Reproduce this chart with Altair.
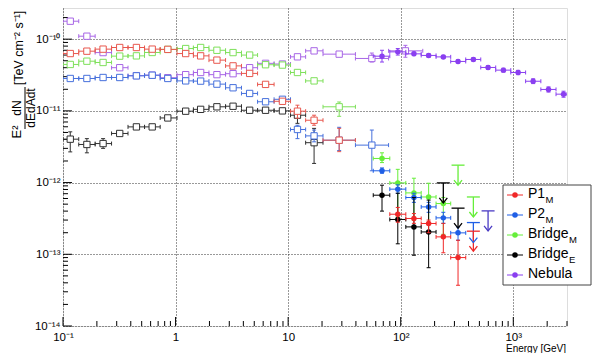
import altair as alt
import pandas as pd
import math

FONT = "Liberation Sans"

# ---------------- Fermi-LAT points (open squares) ----------------
FERMI_E = [0.116, 0.163, 0.227, 0.319, 0.449, 0.62, 0.853, 1.23, 1.67, 2.33, 3.24, 4.55, 6.3, 8.9,
           12.1, 17.0, 28.4, 55.4, 110.0]
FERMI_LO = [0.1, 0.138, 0.193, 0.27, 0.378, 0.53, 0.73, 1.03, 1.44, 1.98, 2.78, 3.85, 5.35, 7.5,
            10.5, 14.3, 20.4, 39.6, 78.0]
FERMI_HI = [0.138, 0.193, 0.27, 0.378, 0.53, 0.73, 1.03, 1.44, 1.98, 2.78, 3.85, 5.35, 7.5, 10.5,
            14.3, 20.4, 39.6, 78.0, 157.0]

P1_F = [6.3e-11, 6.8e-11, 7.26e-11, 7.65e-11, 7.65e-11, 7.26e-11, 7.2e-11, 6.3e-11, 5.85e-11, 5.1e-11,
        4.24e-11, 3.33e-11, 2.34e-11, 1.36e-11, 9.9e-12, 7.4e-12, 3.9e-12]
P1_F_LO = [None] * 14 + [7.9e-12, 6.3e-12, 2.7e-12]
P1_F_HI = [None] * 14 + [1.2e-11, 8.7e-12, 5.7e-12]

P2_F = [2.83e-11, 2.83e-11, 2.92e-11, 2.92e-11, 3.08e-11, 3.14e-11, 2.83e-11, 2.62e-11, 2.6e-11, 2.36e-11,
        2.1e-11, 1.75e-11, 1.34e-11, 1.45e-11, 5.5e-12, 4.48e-12, 3.9e-12, 3.33e-12]
P2_F_LO = [None] * 14 + [4.1e-12, 3.7e-12, 2.8e-12, 1.46e-12]
P2_F_HI = [None] * 14 + [6.3e-12, 5.4e-12, 5.9e-12, 5.4e-12]

BRM_F = [4.44e-11, 4.93e-11, 4.73e-11, 5.8e-11, 5.85e-11, 6.52e-11, 7.2e-11, 7.4e-11, 7.65e-11, 7.0e-11,
         6.5e-11, 6.0e-11, 4.4e-11, 4.35e-11, 3.43e-11, 2.62e-11, 1.14e-11]
BRM_F_LO = [None] * 14 + [3.2e-11, 2.45e-11, 8.4e-12]
BRM_F_HI = [None] * 14 + [3.7e-11, 2.8e-11, 1.33e-11]

BRE_F = [4.03e-12, 3.4e-12, 3.5e-12, 4.84e-12, 5.98e-12, 5.98e-12, 7.97e-12, 9.9e-12, 1.05e-11, 1.14e-11,
         1.16e-11, 1.02e-11, 1.02e-11, 1.0e-11, 8.7e-12, 3.6e-12]
BRE_F_LO = [2.68e-12, 2.6e-12, 3.0e-12] + [None] * 11 + [6.7e-12, 1.85e-12]
BRE_F_HI = [5.1e-12, 4.1e-12, 4.1e-12] + [None] * 11 + [1.02e-11, 5.7e-12]

NEB_F = [1.78e-10, 1.1e-10, 6.5e-11, 4.0e-11, 3.1e-11, 3.15e-11, 2.9e-11, 3.2e-11, 3.43e-11, 3.2e-11,
         3.3e-11, 4.0e-11, 4.6e-11, 4.5e-11, 5.67e-11, 6.87e-11, 6.18e-11, 5.38e-11, 6.87e-11]
NEB_F_LO = [None] * 15 + [6.4e-11, None, 4.8e-11, 5.6e-11]
NEB_F_HI = [None] * 15 + [7.4e-11, None, 6.4e-11, 8.2e-11]

# ---------------- MAGIC points (filled circles) ----------------
MAGIC_E = [68.2, 94.2, 131, 177, 239, 323, 442, 597, 817, 1104, 1501, 2055, 2795]
MAGIC_LO = [57, 80, 111, 152, 206, 278, 378, 514, 698, 950, 1287, 1757, 2397]
MAGIC_HI = [80, 111, 152, 206, 278, 378, 514, 698, 950, 1287, 1757, 2397, 3000]

P1_M_BIN = [1, 2, 3, 4, 5]
P1_M = [3.62e-13, 3.16e-13, 2.69e-13, 1.75e-13, 9.0e-14]
P1_M_LO = [2.8e-13, 2.7e-13, 2.0e-13, 1.05e-13, 3.7e-14]
P1_M_HI = [4.5e-13, 3.7e-13, 3.0e-13, 2.7e-13, 1.57e-13]

P2_M_BIN = [0, 1, 2, 3, 4, 5]
P2_M = [1.46e-12, 8.1e-13, 6.19e-13, 4.58e-13, 3.22e-13, 1.99e-13]
P2_M_LO = [1.35e-12, 7.1e-13, 5.3e-13, 3.85e-13, 2.7e-13, 1.57e-13]
P2_M_HI = [1.6e-12, 9.3e-13, 7.1e-13, 5.3e-13, 3.85e-13, 2.4e-13]

BRM_M_BIN = [0, 1, 2, 3, 4]
BRM_M = [2.17e-12, 9.9e-13, 7.18e-13, 6.3e-13, 5.1e-13]
BRM_M_LO = [1.9e-12, 3.3e-13, 3.0e-13, 2.7e-13, 1.9e-13]
BRM_M_HI = [2.6e-12, 1.53e-12, 1.15e-12, 9.8e-13, 6.2e-13]

BRE_M_BIN = [0, 1, 2, 3]
BRE_M = [6.67e-13, 3.06e-13, 2.41e-13, 2.05e-13]
BRE_M_LO = [4.0e-13, 1.4e-13, 9.7e-14, 6.5e-14]
BRE_M_HI = [9.2e-13, 7.1e-13, 6.2e-13, 5.7e-13]

NEB_M_BIN = list(range(13))
NEB_M = [5.79e-11, 6.65e-11, 6.24e-11, 5.93e-11, 5.66e-11, 4.89e-11, 5.21e-11, 4.03e-11, 3.7e-11,
         3.43e-11, 2.59e-11, 1.99e-11, 1.71e-11]
NEB_M_LO = [4.8e-11, 6.0e-11, 5.9e-11, 5.6e-11, 5.4e-11, 4.65e-11, 4.95e-11, 3.8e-11, 3.48e-11,
            3.2e-11, 2.4e-11, 1.83e-11, 1.55e-11]
NEB_M_HI = [7.0e-11, 7.4e-11, 6.6e-11, 6.25e-11, 5.95e-11, 5.15e-11, 5.5e-11, 4.27e-11, 3.93e-11,
            3.67e-11, 2.8e-11, 2.16e-11, 1.88e-11]

# upper limits
UL_NAME = ["BRM", "BRM", "BRE", "BRE", "P2", "P1", "P2b"]
UL_BIN = [5, 6, 4, 5, 6, 6, 7]
UL_F = [1.75e-12, 6.3e-13, 9.9e-13, 4.4e-13, 2.77e-13, 2.1e-13, 4.03e-13]

# axis ticks
X_TICKS = [0.1, 1, 10, 100, 1000]
X_TICK_LABELS = ["10⁻¹", "1", "10", "10²", "10³"]
Y_TICKS = [1e-14, 1e-13, 1e-12, 1e-11, 1e-10]
Y_TICK_LABELS = ["10⁻¹⁴", "10⁻¹³", "10⁻¹²", "10⁻¹¹", "10⁻¹⁰"]

# legend
LEG_NAMES = ["P1", "P2", "Bridge", "Bridge", "Nebula"]
LEG_SUBS = ["M", "M", "M", "E", ""]
LEG_KEYS = ["P1", "P2", "BRM", "BRE", "NEB"]

COL_M = {"P1": "#f02828", "P2": "#1f5fe6", "BRM": "#66ee3a", "BRE": "#000000", "NEB": "#8a3ff0",
         "P2b": "#4b3cc4"}
COL_F = {"P1": "#e8574e", "P2": "#4670dc", "BRM": "#7ee05a", "BRE": "#303030", "NEB": "#a866e6"}

# ---------------- scales / axes ----------------
W, H = 504, 318
XS = alt.Scale(type="log", domain=[0.1, 3000], nice=False)
YS = alt.Scale(type="log", domain=[1e-14, 2.72e-10], nice=False)


def label_expr(ticks, labels):
    expr = "''"
    for t, l in reversed(list(zip(ticks, labels))):
        e = round(math.log10(t))
        expr = f"(round(log(datum.value)/LN10) == {e}) ? '{l}' : ({expr})"
    return expr


XAX = alt.Axis(values=X_TICKS, labelExpr=label_expr(X_TICKS, X_TICK_LABELS), grid=True,
               gridDash=[1, 2], gridColor="#333333", gridWidth=1, ticks=False, domain=False,
               labelFont=FONT, labelFontSize=11.5, labelColor="black", labelPadding=5,
               labelFlush=False, labelOverlap=False, title=None)
YAX = alt.Axis(values=Y_TICKS, labelExpr=label_expr(Y_TICKS, Y_TICK_LABELS), grid=True,
               gridDash=[1, 2], gridColor="#333333", gridWidth=1, ticks=False, domain=False,
               labelFont=FONT, labelFontSize=11.5, labelColor="black", labelPadding=3,
               labelFlush=False, labelOverlap=False, title=None)


def X(f):
    return alt.X(f, type="quantitative", scale=XS, axis=XAX)


def Y(f):
    return alt.Y(f, type="quantitative", scale=YS, axis=YAX)


def fermi_df(flux, lo, hi):
    rows = []
    for i, f in enumerate(flux):
        rows.append(dict(x=FERMI_E[i], xlo=FERMI_LO[i], xhi=FERMI_HI[i], y=f,
                         ylo=lo[i] if lo[i] is not None else f,
                         yhi=hi[i] if hi[i] is not None else f))
    return pd.DataFrame(rows)


def magic_df(bins, flux, lo, hi):
    rows = []
    for b, f, l, h in zip(bins, flux, lo, hi):
        rows.append(dict(x=MAGIC_E[b], xlo=MAGIC_LO[b], xhi=MAGIC_HI[b], y=f, ylo=l, yhi=h))
    return pd.DataFrame(rows)


VCAP = "M0,-1L0,1"
HCAP = "M-1,0L1,0"


def series_layers(df, color, marker):
    base = alt.Chart(df)
    out = []
    out.append(base.mark_rule(color=color, strokeWidth=1, clip=True).encode(
        x=X("xlo"), x2=alt.X2("xhi"), y=Y("y")))
    errs = df[df["ylo"] < df["y"] * 0.999]
    if len(errs):
        eb = alt.Chart(errs)
        out.append(eb.mark_rule(color=color, strokeWidth=1, clip=True).encode(
            x=X("x"), y=Y("ylo"), y2=alt.Y2("yhi")))
        for col in ["ylo", "yhi"]:
            out.append(eb.mark_point(shape=HCAP, size=16, color=color, strokeWidth=1,
                                     opacity=1, filled=False, clip=True).encode(x=X("x"), y=Y(col)))
    for col in ["xlo", "xhi"]:
        out.append(base.mark_point(shape=VCAP, size=16, color=color, strokeWidth=1,
                                   opacity=1, filled=False, clip=True).encode(x=X(col), y=Y("y")))
    if marker == "square":
        out.append(base.mark_point(shape="square", size=40, stroke=color, fill="white",
                                   fillOpacity=1, strokeWidth=1, opacity=1, clip=True).encode(
            x=X("x"), y=Y("y")))
    else:
        out.append(base.mark_circle(size=30, color=color, opacity=1, clip=True).encode(
            x=X("x"), y=Y("y")))
    return out


layers = []

# inner ticks
x_minor = [m * 10.0 ** e for e in range(-1, 4) for m in range(2, 10) if m * 10.0 ** e <= 3000]
y_minor = [m * 10.0 ** e for e in range(-14, -9) for m in range(2, 10) if m * 10.0 ** e <= 2.72e-10]
layers.append(alt.Chart(pd.DataFrame({"v": X_TICKS})).mark_rule(color="black").encode(
    x=X("v"), y=alt.value(H), y2=alt.value(H - 9)))
layers.append(alt.Chart(pd.DataFrame({"v": x_minor})).mark_rule(color="black").encode(
    x=X("v"), y=alt.value(H), y2=alt.value(H - 5)))
layers.append(alt.Chart(pd.DataFrame({"v": Y_TICKS})).mark_rule(color="black").encode(
    y=Y("v"), x=alt.value(0), x2=alt.value(9)))
layers.append(alt.Chart(pd.DataFrame({"v": y_minor})).mark_rule(color="black").encode(
    y=Y("v"), x=alt.value(0), x2=alt.value(5)))

# Fermi
layers += series_layers(fermi_df(NEB_F, NEB_F_LO, NEB_F_HI), COL_F["NEB"], "square")
layers += series_layers(fermi_df(BRE_F, BRE_F_LO, BRE_F_HI), COL_F["BRE"], "square")
layers += series_layers(fermi_df(P2_F, P2_F_LO, P2_F_HI), COL_F["P2"], "square")
layers += series_layers(fermi_df(BRM_F, BRM_F_LO, BRM_F_HI), COL_F["BRM"], "square")
layers += series_layers(fermi_df(P1_F, P1_F_LO, P1_F_HI), COL_F["P1"], "square")

# MAGIC
layers += series_layers(magic_df(NEB_M_BIN, NEB_M, NEB_M_LO, NEB_M_HI), COL_M["NEB"], "circle")
layers += series_layers(magic_df(BRM_M_BIN, BRM_M, BRM_M_LO, BRM_M_HI), COL_M["BRM"], "circle")
layers += series_layers(magic_df(P2_M_BIN, P2_M, P2_M_LO, P2_M_HI), COL_M["P2"], "circle")
layers += series_layers(magic_df(BRE_M_BIN, BRE_M, BRE_M_LO, BRE_M_HI), COL_M["BRE"], "circle")
layers += series_layers(magic_df(P1_M_BIN, P1_M, P1_M_LO, P1_M_HI), COL_M["P1"], "circle")

# upper limits (arrow of fixed 20 px length)
ARROW = 10 ** (20 / 71.7)
ul_df = pd.DataFrame({
    "name": UL_NAME,
    "x": [MAGIC_E[b] for b in UL_BIN],
    "ul": UL_F,
})
ul_df["tip"] = ul_df["ul"] / ARROW
ul_df["col"] = [COL_M[n] for n in UL_NAME]
ulc = alt.Chart(ul_df)
layers.append(ulc.mark_rule(strokeWidth=1.3).encode(
    x=X("x"), y=Y("ul"), y2=alt.Y2("tip"), color=alt.Color("col:N", scale=None)))
layers.append(ulc.mark_point(shape=HCAP, size=169, strokeWidth=1.3, filled=False, opacity=1).encode(
    x=X("x"), y=Y("ul"), color=alt.Color("col:N", scale=None)))
layers.append(ulc.mark_point(shape="M-0.8,-1L0,0L0.8,-1", size=100, strokeWidth=1.3, filled=False,
                             opacity=1).encode(
    x=X("x"), y=Y("tip"), color=alt.Color("col:N", scale=None)))

# legend
one = pd.DataFrame({"a": [0]})
LX0, LX1, LY0, LY1 = 440, 528, 177, 277
layers.append(alt.Chart(one).mark_rect(fill="white", stroke="#444444", strokeWidth=1).encode(
    x=alt.value(LX0), x2=alt.value(LX1), y=alt.value(LY0), y2=alt.value(LY1)))
CHAR_W = {"P": 0.667, "1": 0.556, "2": 0.556, "B": 0.667, "r": 0.333, "i": 0.222, "d": 0.556,
          "g": 0.556, "e": 0.556, "N": 0.722, "b": 0.556, "u": 0.556, "l": 0.222, "a": 0.556}
for i, (nm, sub, key) in enumerate(zip(LEG_NAMES, LEG_SUBS, LEG_KEYS)):
    ry = 187 + 20 * i
    col = COL_M[key]
    layers.append(alt.Chart(one).mark_rule(color=col, strokeWidth=1).encode(
        x=alt.value(444), x2=alt.value(460), y=alt.value(ry)))
    layers.append(alt.Chart(one).mark_circle(color=col, size=30, opacity=1).encode(
        x=alt.value(452), y=alt.value(ry)))
    layers.append(alt.Chart(one).mark_text(font=FONT, fontSize=14, align="left", baseline="middle",
                                           color="black").encode(
        x=alt.value(465), y=alt.value(ry - 1), text=alt.value(nm)))
    if sub:
        w = sum(CHAR_W.get(c, 0.556) for c in nm) * 14
        layers.append(alt.Chart(one).mark_text(font=FONT, fontSize=9.5, align="left",
                                               baseline="middle", color="black").encode(
            x=alt.value(465 + w + 0.5), y=alt.value(ry + 5), text=alt.value(sub)))

# axis titles
layers.append(alt.Chart(one).mark_text(font=FONT, fontSize=10, align="right", baseline="alphabetic",
                                       color="black").encode(
    x=alt.value(W - 1), y=alt.value(H + 25.5), text=alt.value("Energy [GeV]")))
YT = [("[TeV cm⁻² s⁻¹]", -44, 40, 12.5), ("dN", -46, 100, 12), ("dEdAdt", -32, 100, 12),
      ("E²", -46, 124, 13)]
for txt, tx, ty, fs in YT:
    layers.append(alt.Chart(one).mark_text(font=FONT, fontSize=fs, angle=270, align="center",
                                           baseline="middle", color="black").encode(
        x=alt.value(tx), y=alt.value(ty), text=alt.value(txt)))
layers.append(alt.Chart(one).mark_rule(color="black", strokeWidth=1).encode(
    x=alt.value(-38), y=alt.value(79), y2=alt.value(121)))

chart = alt.layer(*layers).properties(
    width=W, height=H,
    padding={"left": 55, "top": 0, "right": 25, "bottom": 27},
    autosize=alt.AutoSizeParams(type="none"),
).configure_view(stroke="black", strokeWidth=1).configure(font=FONT)

chart.save("out.html", embed_options={"renderer": "svg", "actions": False})
